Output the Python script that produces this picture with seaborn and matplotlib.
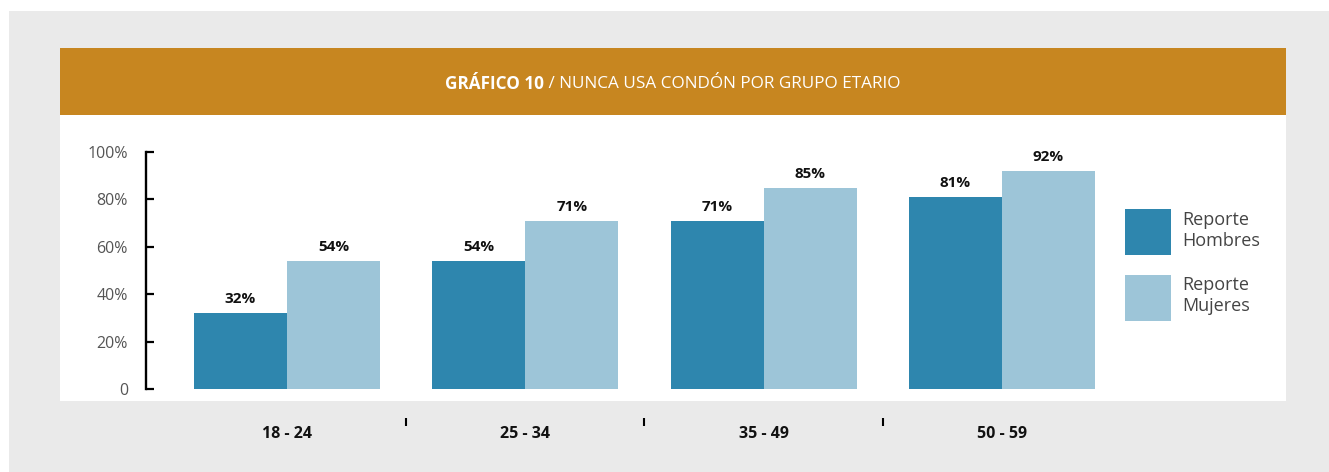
import matplotlib
matplotlib.use("Agg")
import matplotlib.pyplot as plt
from matplotlib.patches import Rectangle
import pandas as pd
import seaborn as sns

# datos del gráfico
grupos = ["18 - 24", "25 - 34", "35 - 49", "50 - 59"]
hombres = [32, 54, 71, 81]
mujeres = [54, 71, 85, 92]
series = ["Reporte Hombres", "Reporte Mujeres"]
y_ticks = [0, 20, 40, 60, 80, 100]
y_tick_labels = ["0", "20%", "40%", "60%", "80%", "100%"]
titulo_bold = "GRÁFICO 10"
titulo_resto = " / NUNCA USA CONDÓN POR GRUPO ETARIO"

azul_oscuro = "#2E86AE"
azul_claro = "#9DC5D8"
naranja = "#C78620"
gris = "#EAEAEA"

W, H = 1329, 472

sns.set_theme(style="white")
plt.rcParams["font.family"] = ["Open Sans", "DejaVu Sans"]

df = pd.DataFrame({
    "grupo": grupos * 2,
    "valor": hombres + mujeres,
    "serie": [series[0]] * len(grupos) + [series[1]] * len(grupos),
})

fig = plt.figure(figsize=(W / 100, H / 100), dpi=100, facecolor="white")


def px_rect(x0, y0, x1, y1, color):
    # coordenadas en pixeles desde arriba a la izquierda
    fig.add_artist(Rectangle((x0 / W, 1 - y1 / H), (x1 - x0) / W, (y1 - y0) / H,
                             transform=fig.transFigure, facecolor=color,
                             edgecolor="none", zorder=-5))


px_rect(9, 11, W, H, gris)
px_rect(60, 48, 1286, 115, naranja)
px_rect(60, 115, 1286, 401, "white")

# titulo en dos partes (negrita + normal)
t1 = fig.text(0, 1 - 84 / H, titulo_bold, color="white", fontsize=12.3,
              fontweight="bold", va="center", ha="left")
t2 = fig.text(0, 1 - 84 / H, titulo_resto, color="white", fontsize=12.3,
              va="center", ha="left")

ax = fig.add_axes([146 / W, 1 - 389 / H, (1110 - 146) / W, (389 - 152) / H])
ax.patch.set_alpha(0)

sns.barplot(data=df, x="grupo", y="valor", hue="serie",
            palette=[azul_oscuro, azul_claro], saturation=1, width=0.78,
            linewidth=0, ax=ax)

for cont in ax.containers:
    ax.bar_label(cont, labels=[f"{v:.0f}%" for v in cont.datavalues],
                 padding=5, fontsize=11, fontweight="bold", color="#111111")

ax.set_xlim(-0.5917, 3.4536)
ax.set_ylim(0, 100)
ax.set_xlabel("")
ax.set_ylabel("")

ax.set_yticks(y_ticks)
ax.set_yticklabels(y_tick_labels)
ax.tick_params(axis="y", direction="in", length=5.8, width=1.6, color="black",
               pad=13, labelsize=11.5, labelcolor="#555555", left=True)

ax.set_xticks(range(len(grupos)))
ax.set_xticks([0.5, 1.5, 2.5], minor=True)
ax.tick_params(axis="x", which="major", length=0, pad=0, labelsize=11.5,
               labelcolor="#111111")
ax.tick_params(axis="x", which="minor", direction="in", length=5.8, width=1.5,
               color="black", bottom=True)
ax.set_xticklabels(grupos, fontweight="bold", fontsize=11.5)

for s in ["top", "right"]:
    ax.spines[s].set_visible(False)
ax.spines["bottom"].set_position(("outward", 26.5))
ax.spines["bottom"].set_visible(False)
ax.spines["left"].set_color("black")
ax.spines["left"].set_linewidth(1.7)

handles, labels = ax.get_legend_handles_labels()
ax.legend(handles, [l.replace(" ", "\n") for l in labels],
          loc="upper left", bbox_to_anchor=(1125 / W, 1 - 209 / H),
          bbox_transform=fig.transFigure, frameon=False, borderpad=0,
          borderaxespad=0, handlelength=2.56, handleheight=3.57,
          handletextpad=0.6, labelspacing=1.07, fontsize=13,
          labelcolor="#444444")

# centrar el titulo en la banda naranja
fig.canvas.draw()
r = fig.canvas.get_renderer()
w1 = t1.get_window_extent(r).width
w2 = t2.get_window_extent(r).width
x0 = 673 - (w1 + w2) / 2
t1.set_x(x0 / W)
t2.set_x((x0 + w1) / W)

for lbl in ax.get_xticklabels():
    lbl.set_fontweight("bold")

fig.savefig("out.png", dpi=100, facecolor=fig.get_facecolor())
